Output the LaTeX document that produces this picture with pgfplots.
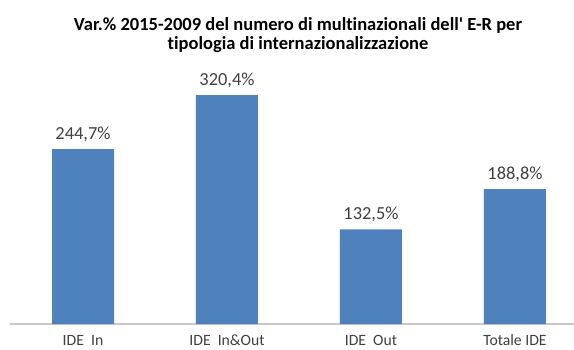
\documentclass[border=0pt]{standalone}
\usepackage{pgfplots}
\pgfplotsset{compat=1.18}
\usepackage{fontspec}
\setmainfont{Carlito}[Ligatures=NoCommon]
\definecolor{barblue}{HTML}{4F81BD}
\definecolor{axgray}{HTML}{C8C8C8}
\definecolor{txt}{HTML}{404040}
\begin{document}
\begin{tikzpicture}
\useasboundingbox (-10pt,-25pt) rectangle (564pt,324pt);
\begin{axis}[
  at={(0pt,0pt)}, anchor=south west,
  scale only axis, width=564pt, height=250pt,
  xmin=-0.507, xmax=3.41, ymin=0, ymax=350,
  axis y line=none,
  axis x line*=bottom,
  x axis line style={draw=axgray, line width=1.8pt, -},
  xtick={0,1,2,3},
  xticklabels={IDE\ \ In, IDE\ \ In\&Out, IDE\ \ Out, Totale IDE},
  major tick length=0pt,
  xticklabel style={font=\fontsize{15.7}{17}\selectfont, text=txt, anchor=base, yshift=-21pt, inner sep=0pt},
  ybar, bar width=62pt,
  point meta=explicit symbolic,
  nodes near coords,
  nodes near coords style={font=\fontsize{18.4}{20}\selectfont, text=txt, anchor=base, yshift=10pt},
  clip=false,
]
\addplot[fill=barblue, draw=none] coordinates {
  (0,244.7) [244,7\%]
  (1,320.4) [320,4\%]
  (2,132.5) [132,5\%]
  (3,188.8) [188,8\%]
};
\end{axis}
\node[font=\bfseries\fontsize{18.5}{22}\selectfont, text=black, anchor=base] at (288pt,294pt)
  {Var.\% 2015-2009 del numero di multinazionali dell\textquotesingle{} E-R per};
\node[font=\bfseries\fontsize{18.5}{22}\selectfont, text=black, anchor=base] at (288pt,275pt)
  {tipologia di internazionalizzazione};
\end{tikzpicture}
\end{document}
